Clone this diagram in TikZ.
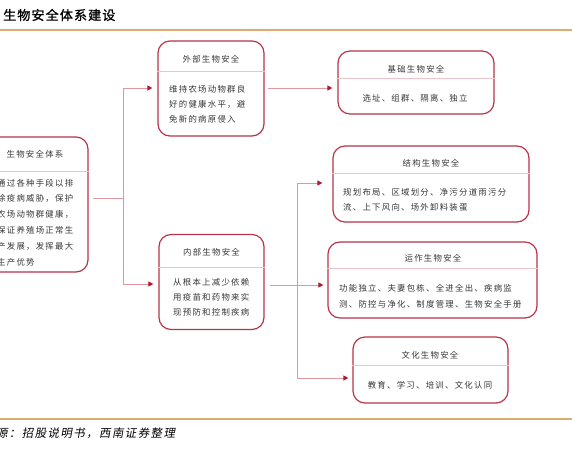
\documentclass[tikz,border=0pt]{standalone}
\usepackage{fontspec}
\setmainfont{Noto Sans CJK SC}[LetterSpace=15]
\newfontfamily\srcfont{Noto Sans CJK SC}[LetterSpace=12, FakeSlant=0.18]
\newfontfamily\titlefont{Noto Sans CJK SC}[LetterSpace=9, FakeBold=1.2]
\usetikzlibrary{arrows.meta}
\definecolor{boxred}{RGB}{184,52,74}
\definecolor{divpink}{RGB}{236,196,200}
\definecolor{linepink}{RGB}{226,150,160}
\definecolor{tipred}{RGB}{178,28,48}
\definecolor{rulegold}{RGB}{222,172,112}
\definecolor{txt}{RGB}{55,55,55}
\tikzset{
  box/.style={draw=boxred, line width=1.2pt, rounded corners=12pt, inner sep=0pt, fill=white},
  divline/.style={draw=divpink, line width=0.8pt},
  hdr/.style={text=txt, font=\fontsize{8.4}{10}\selectfont, inner sep=0pt},
  body/.style={text=txt, font=\fontsize{8.4}{15}\selectfont, align=left, inner sep=0pt, anchor=west},
  conn/.style={draw=linepink, line width=0.9pt},
  arr/.style={conn, -{Triangle[length=5pt, width=5pt, color=tipred]}},
  goldrule/.style={draw=rulegold, line width=1.4pt}
}
\begin{document}
\begin{tikzpicture}[x=1pt, y=-1pt]
\useasboundingbox (0,0) rectangle (572,449);
% title and rules
\node[anchor=west, inner sep=0pt, text=black, font=\titlefont\fontsize{13}{15}\selectfont] (title) at (3,15) {生物安全体系建设};
\draw[goldrule] (0,30) -- (572,30);
\draw[goldrule] (0,419) -- (572,419);
\node[anchor=west, inner sep=0pt, text=black, font=\srcfont\fontsize{11.5}{13}\selectfont] (src) at (-4,433) {源：招股说明书，西南证券整理};

% left box
\node[box, minimum width=106pt, minimum height=135pt] (L) at (35,204.5) {};
\draw[divline] (L.west |- 0,171) -- (L.east |- 0,171);
\node[hdr] (Lh) at (35,154) {生物安全体系};
\node[body, font=\fontsize{8.4}{15.8}\selectfont] (Lb) at (-3,222.5) {通过各种手段以排\\除疫病威胁，保护\\农场动物群健康，\\保证养殖场正常生\\产发展，发挥最大\\生产优势};

% outer biosecurity
\node[box, minimum width=106pt, minimum height=95pt] (OUT) at (211,88.5) {};
\draw[divline] (OUT.west |- 0,71) -- (OUT.east |- 0,71);
\node[hdr] (OUTh) at (211,59) {外部生物安全};
\node[body] (OUTb) at (169,104) {维持农场动物群良\\好的健康水平，避\\免新的病原侵入};

% inner biosecurity
\node[box, minimum width=105pt, minimum height=95pt] (IN) at (211.5,282) {};
\draw[divline] (IN.west |- 0,267) -- (IN.east |- 0,267);
\node[hdr] (INh) at (211.5,252) {内部生物安全};
\node[body] (INb) at (173,297) {从根本上减少依赖\\用疫苗和药物来实\\现预防和控制疾病};

% basic
\node[box, minimum width=156pt, minimum height=63pt] (BASE) at (416,82.5) {};
\draw[divline] (BASE.west |- 0,78) -- (BASE.east |- 0,78);
\node[hdr] (BASEh) at (416,69) {基础生物安全};
\node[hdr] (BASEb) at (415,98) {选址、组群、隔离、独立};

% structural
\node[box, minimum width=196pt, minimum height=76pt] (STR) at (431,184) {};
\draw[divline] (STR.west |- 0,173) -- (STR.east |- 0,173);
\node[hdr] (STRh) at (431,163) {结构生物安全};
\node[body, font=\fontsize{8.4}{14.5}\selectfont] (STRb) at (343,200) {规划布局、区域划分、净污分道雨污分\\流、上下风向、场外卸料装蛋};

% operational
\node[box, minimum width=209pt, minimum height=76pt] (OPS) at (432.5,280) {};
\draw[divline] (OPS.west |- 0,268) -- (OPS.east |- 0,268);
\node[hdr] (OPSh) at (433,258) {运作生物安全};
\node[body, font=\fontsize{8.4}{16}\selectfont] (OPSb) at (339,296) {功能独立、夫妻包栋、全进全出、疾病监\\测、防控与净化、制度管理、生物安全手册};

% cultural
\node[box, minimum width=155pt, minimum height=66pt] (CUL) at (430.5,370) {};
\draw[divline] (CUL.west |- 0,365) -- (CUL.east |- 0,365);
\node[hdr] (CULh) at (430,355) {文化生物安全};
\node[hdr] (CULb) at (430,385) {教育、学习、培训、文化认同};

% connectors from left box
\coordinate (j1) at (123,198);
\draw[conn] ([xshift=4pt]L.east |- j1) -- (j1);
\draw[arr] (j1) |- ([xshift=-5pt]OUT.west |- 0,88);
\draw[arr] (j1) |- ([xshift=-5pt]IN.west |- 0,284);

% outer to basic
\draw[arr] ([xshift=3pt]OUT.east |- 0,88) -- ([xshift=-5pt]BASE.west |- 0,88);

% inner to the three
\coordinate (j2) at (297,285);
\draw[conn] ([xshift=5pt]IN.east |- j2) -- (j2);
\draw[arr] (j2) |- ([xshift=-10pt]STR.west |- 0,183);
\draw[arr] (j2) -- ([xshift=-4pt]OPS.west |- j2);
\draw[arr] (j2) |- ([xshift=-4pt]CUL.west |- 0,378);
\end{tikzpicture}
\end{document}
